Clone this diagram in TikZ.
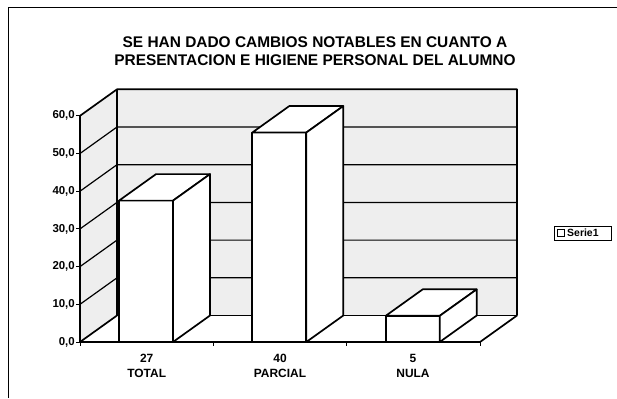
\documentclass[tikz,border=0pt]{standalone}
\usepackage{fontspec}
\setmainfont{Liberation Sans}
\begin{document}
\begin{tikzpicture}[x=1bp,y=-1bp,
  wall/.style={fill=gray!13},
  edge/.style={line width=1.7bp, line join=round},
  gridline/.style={line width=1.2bp},
  barface/.style={fill=white, draw=black, line width=1.7bp, line join=round},
  ylab/.style={font=\bfseries\fontsize{11.5}{12}\selectfont, inner sep=0pt, anchor=east},
  xlab/.style={font=\bfseries\fontsize{12}{15}\selectfont, inner sep=0pt, align=center},
  titlestyle/.style={font=\bfseries\fontsize{15.5}{18}\selectfont, inner sep=0pt, align=center}]
\useasboundingbox (0,0) rectangle (617,398);
% outer frame (open at right and bottom)
\draw[line width=1bp] (8,398) -- (8,7) -- (617,7);
% title
\node[titlestyle] (title) at (315,51.5) {SE HAN DADO CAMBIOS NOTABLES EN CUANTO A\\PRESENTACION E HIGIENE PERSONAL DEL ALUMNO};
% geometry helpers
\def\dx{37}\def\dy{-26.5}\def\ys{3.77}
% back wall
\fill[wall] (117,315.5) rectangle (517,89.3);
% side wall
\fill[wall] (80,342) -- (117,315.5) -- (117,89.3) -- (80,115.8) -- cycle;
% gridlines
\foreach \v in {10,20,30,40,50} {
  \pgfmathsetmacro{\yf}{342-\ys*\v}
  \pgfmathsetmacro{\yb}{\yf+\dy}
  \draw[gridline] (80,\yf) -- (117,\yb) -- (517,\yb);
}
% floor
\fill[white] (80,342) -- (480,342) -- (517,315.5) -- (117,315.5) -- cycle;
\draw[edge] (117,315.5) -- (517,315.5);
\draw[edge] (80,342) -- (480,342) -- (517,315.5);
\draw[edge] (80,342) -- (117,315.5);
% wall outlines
\draw[edge] (80,342) -- (80,115.8) -- (117,89.3) -- (517,89.3) -- (517,315.5);
\draw[edge] (117,89.3) -- (117,315.5);
% axis ticks
\foreach \v in {0,10,...,60} {
  \pgfmathsetmacro{\yf}{342-\ys*\v}
  \draw[line width=1bp] (76,\yf) -- (80,\yf);
}
\foreach \x in {80,213.3,346.7,480} {
  \draw[line width=1bp] (\x,342) -- (\x,346);
}
% bars
\foreach \xl/\v in {119/37.5, 252.3/55.56, 385.7/6.94} {
  \pgfmathsetmacro{\yt}{342-\ys*\v}
  \pgfmathsetmacro{\ytb}{\yt+\dy}
  \pgfmathsetmacro{\xr}{\xl+54}
  \pgfmathsetmacro{\xlb}{\xl+\dx}
  \pgfmathsetmacro{\xrb}{\xr+\dx}
  \draw[barface] (\xl,342) rectangle (\xr,\yt);
  \draw[barface] (\xl,\yt) -- (\xlb,\ytb) -- (\xrb,\ytb) -- (\xr,\yt) -- cycle;
  \draw[barface] (\xr,342) -- (\xrb,315.5) -- (\xrb,\ytb) -- (\xr,\yt) -- cycle;
}
% y labels
\foreach \v/\t in {0/{0,0},10/{10,0},20/{20,0},30/{30,0},40/{40,0},50/{50,0},60/{60,0}} {
  \pgfmathsetmacro{\yf}{342-\ys*\v}
  \node[ylab] (y\v) at (75,\yf) {\t};
}
% category labels
\node[xlab] (c1) at (146.7,365.5) {27\\TOTAL};
\node[xlab] (c2) at (280,365.5) {40\\PARCIAL};
\node[xlab] (c3) at (413,365.5) {5\\NULA};
% legend
\node[draw, line width=1bp, minimum width=57bp, minimum height=14bp, inner sep=0pt] (legend) at (582.5,233) {};
\node[draw, line width=1bp, fill=white, minimum size=7bp, inner sep=0pt] (legmark) at (561,233) {};
\node[font=\bfseries\fontsize{10.5}{12}\selectfont, inner sep=0pt, anchor=west] (legtext) at (567,233) {Serie1};
\end{tikzpicture}
\end{document}
